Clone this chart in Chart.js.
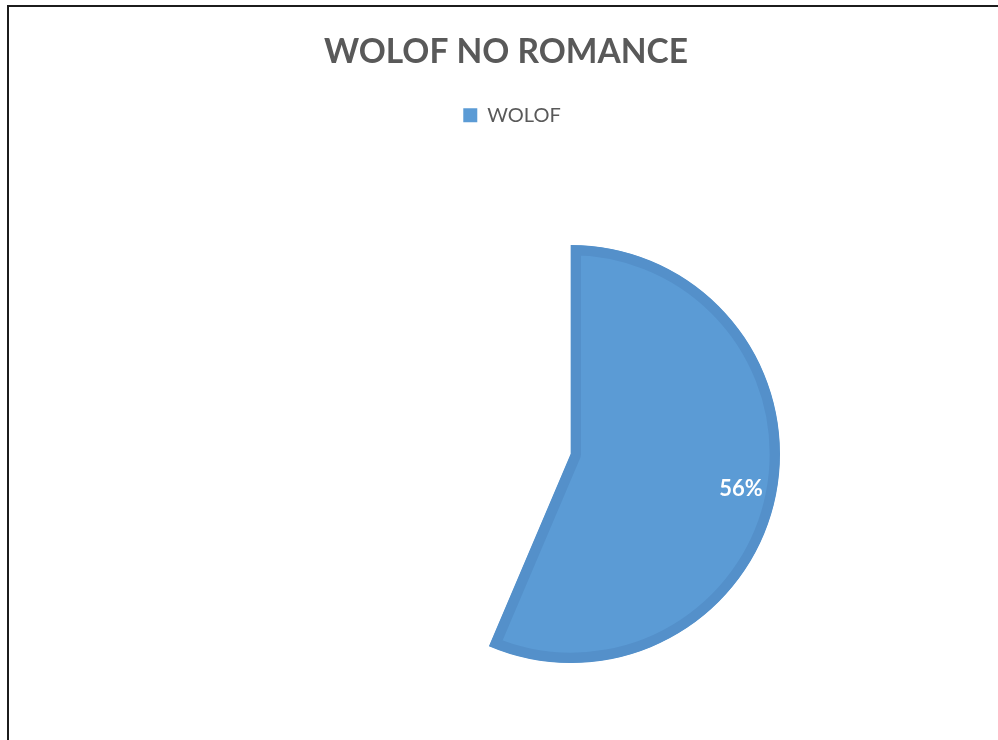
<!DOCTYPE html>
<html>
<head>
<meta charset="utf-8">
<script src="https://cdn.jsdelivr.net/npm/chart.js@4"></script>
<style>
  html, body { margin: 0; padding: 0; background: #fff; }
  #wrap { position: relative; width: 998px; height: 740px; overflow: hidden; }
  #frame { position: absolute; left: 7px; top: 5px; right: -4px; bottom: -4px;
           border-left: 2px solid #1c1c1c; border-top: 2px solid #1c1c1c; }
  canvas { position: absolute; left: 0; top: 0; }
</style>
</head>
<body>
<div id="wrap">
  <canvas id="c" width="998" height="740"></canvas>
  <div id="frame"></div>
</div>
<script>
// ---- data ----
const chartTitle = 'WOLOF NO ROMANCE';
const categories = ['WOLOF', ''];
const values = [56.4, 43.6];
const sliceColors = ['#5B9BD5', 'rgba(0,0,0,0)'];
const sliceBorders = ['#5490CA', 'rgba(0,0,0,0)'];

// ---- layout (styling only) ----
const PIE_CENTER_X = 571, PIE_CENTER_Y = 454, PIE_RADIUS = 209;
const LEGEND_SHIFT_X = 6;

const piePlacement = {
  id: 'piePlacement',
  afterLayout(chart) {
    const a = chart.chartArea;
    a.left = PIE_CENTER_X - PIE_RADIUS;
    a.right = PIE_CENTER_X + PIE_RADIUS;
    a.top = PIE_CENTER_Y - PIE_RADIUS;
    a.bottom = PIE_CENTER_Y + PIE_RADIUS;
    a.width = a.right - a.left;
    a.height = a.bottom - a.top;
    if (chart.legend) {
      chart.legend.left += LEGEND_SHIFT_X;
      chart.legend.right += LEGEND_SHIFT_X;
    }
  }
};

const sliceLabels = {
  id: 'sliceLabels',
  afterDatasetsDraw(chart) {
    const ctx = chart.ctx;
    const meta = chart.getDatasetMeta(0);
    const data = chart.data.datasets[0].data;
    const total = data.reduce((s, v) => s + v, 0);
    meta.data.forEach((arc, i) => {
      if (!categories[i]) return;
      const p = arc.getProps(['x', 'y', 'startAngle', 'endAngle', 'outerRadius'], true);
      const mid = (p.startAngle + p.endAngle) / 2;
      const r = p.outerRadius * 0.83;
      const x = p.x + Math.cos(mid) * r;
      const y = p.y + Math.sin(mid) * r;
      ctx.save();
      ctx.fillStyle = '#ffffff';
      ctx.font = 'bold 22px Lato, "Open Sans", sans-serif';
      ctx.textAlign = 'center';
      ctx.textBaseline = 'middle';
      ctx.fillText(Math.round(data[i] / total * 100) + '%', x, y);
      ctx.restore();
    });
  }
};

const defaultLabels = Chart.overrides.pie.plugins.legend.labels.generateLabels;

new Chart(document.getElementById('c'), {
  type: 'pie',
  data: {
    labels: categories,
    datasets: [{
      data: values,
      backgroundColor: sliceColors,
      borderColor: sliceBorders,
      borderWidth: 10,
      borderAlign: 'inner',
      hoverOffset: 0
    }]
  },
  options: {
    responsive: false,
    animation: false,
    events: [],
    layout: { padding: { left: 14, right: 0, top: 0, bottom: 0 } },
    plugins: {
      title: {
        display: true,
        text: chartTitle,
        color: '#595959',
        font: { family: 'Lato, "Open Sans", sans-serif', size: 33.5, weight: 'bold', lineHeight: 1.2 },
        padding: { top: 32, bottom: 23 }
      },
      legend: {
        display: true,
        position: 'top',
        labels: {
          color: '#595959',
          font: { family: 'Lato, "Open Sans", sans-serif', size: 20 },
          boxWidth: 14,
          boxHeight: 14,
          padding: 10,
          generateLabels(chart) {
            return defaultLabels(chart)
              .filter(item => item.text)
              .map(item => Object.assign(item, { lineWidth: 0, strokeStyle: 'rgba(0,0,0,0)' }));
          }
        }
      },
      tooltip: { enabled: false }
    }
  },
  plugins: [piePlacement, sliceLabels]
});
</script>
</body>
</html>
